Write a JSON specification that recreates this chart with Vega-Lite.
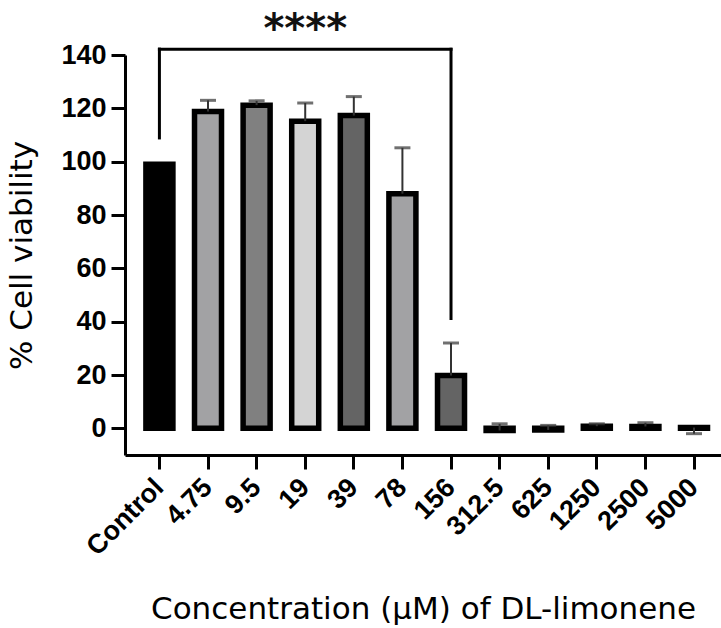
{
  "$schema": "https://vega.github.io/schema/vega-lite/v6.json",
  "width": 596,
  "height": 400,
  "autosize": {"type": "none"},
  "padding": {"left": 125, "top": 55, "right": 0, "bottom": 173},
  "background": "white",
  "config": {
    "view": {"stroke": null},
    "axis": {
      "domainColor": "black", "domainWidth": 3, "tickColor": "black", "tickWidth": 3, "tickSize": 14,
      "labelColor": "black", "labelFont": "Liberation Sans", "labelFontWeight": "bold", "labelFontSize": 27,
      "titleColor": "black", "titleFont": "DejaVu Sans", "titleFontWeight": "normal", "titleFontSize": 31,
      "grid": false
    }
  },
  "datasets": {
    "bars": [
      {"conc": "Control", "viability": 99, "err": null},
      {"conc": "4.75", "viability": 118.8, "err": 123},
      {"conc": "9.5", "viability": 121.2, "err": 122.8},
      {"conc": "19", "viability": 115.2, "err": 122},
      {"conc": "39", "viability": 117.3, "err": 124.4},
      {"conc": "78", "viability": 88, "err": 105.2},
      {"conc": "156", "viability": 19.8, "err": 32},
      {"conc": "312.5", "viability": -0.8, "err": 1.7},
      {"conc": "625", "viability": -0.6, "err": 1.1},
      {"conc": "1250", "viability": 0.8, "err": 1.7},
      {"conc": "2500", "viability": 0.7, "err": 2.1},
      {"conc": "5000", "viability": 0.3, "err": -2}
    ],
    "bracket": [
      {"from": "Control", "to": "Control", "y1": 108.9, "y2": 142.2},
      {"from": "Control", "to": "156", "y1": 142.2, "y2": 142.2},
      {"from": "156", "to": "156", "y1": 41.2, "y2": 142.2}
    ],
    "sig": [
      {"pos": "19", "y": 145, "label": "****"}
    ]
  },
  "layer": [
    {
      "data": {"name": "bars"},
      "mark": {"type": "bar", "size": 27, "stroke": "black", "strokeWidth": 5.5},
      "encoding": {
        "x": {
          "field": "conc", "type": "nominal", "sort": null,
          "scale": {"paddingInner": 0, "paddingOuter": 0.1317, "align": 0.79, "round": false},
          "axis": {"title": "Concentration (µM) of DL-limonene", "labelAngle": -45, "labelAlign": "right", "labelBaseline": "middle", "labelPadding": 14, "titlePadding": 34}
        },
        "y": {
          "field": "viability", "type": "quantitative",
          "scale": {"domain": [-10, 140], "nice": false, "zero": false},
          "axis": {"title": "% Cell viability", "values": [0, 20, 40, 60, 80, 100, 120, 140], "labelPadding": 5, "titlePadding": 22}
        },
        "fill": {
          "field": "conc", "type": "nominal", "legend": null,
          "scale": {
            "domain": ["Control", "4.75", "9.5", "19", "39", "78", "156", "312.5", "625", "1250", "2500", "5000"],
            "range": ["#000000", "#a2a2a4", "#808080", "#d4d4d4", "#646464", "#a2a2a4", "#646464", "#808080", "#d4d4d4", "#646464", "#a2a2a4", "#808080"]
          }
        }
      }
    },
    {
      "data": {"name": "bars"},
      "transform": [{"filter": "datum.err != null"}],
      "mark": {"type": "rule", "color": "#333333", "strokeWidth": 2},
      "encoding": {
        "x": {"field": "conc", "type": "nominal", "sort": null},
        "y": {"field": "viability", "type": "quantitative"},
        "y2": {"field": "err"}
      }
    },
    {
      "data": {"name": "bars"},
      "transform": [{"filter": "datum.err != null"}],
      "mark": {"type": "tick", "color": "#333333", "size": 16, "thickness": 3, "orient": "horizontal"},
      "encoding": {
        "x": {"field": "conc", "type": "nominal", "sort": null},
        "y": {"field": "err", "type": "quantitative"}
      }
    },
    {
      "mark": {"type": "rule", "color": "black", "strokeWidth": 3},
      "encoding": {"y": {"datum": 0, "type": "quantitative"}}
    },
    {
      "data": {"name": "bracket"},
      "mark": {"type": "rule", "color": "black", "strokeWidth": 3, "strokeCap": "square"},
      "encoding": {
        "x": {"field": "from", "type": "nominal", "sort": null},
        "x2": {"field": "to"},
        "y": {"field": "y1", "type": "quantitative"},
        "y2": {"field": "y2"}
      }
    },
    {
      "data": {"name": "sig"},
      "mark": {"type": "text", "font": "DejaVu Sans", "fontWeight": "bold", "fontSize": 40, "color": "#111111", "baseline": "alphabetic", "align": "center"},
      "encoding": {
        "x": {"field": "pos", "type": "nominal", "sort": null},
        "y": {"field": "y", "type": "quantitative"},
        "text": {"field": "label"}
      }
    }
  ]
}
